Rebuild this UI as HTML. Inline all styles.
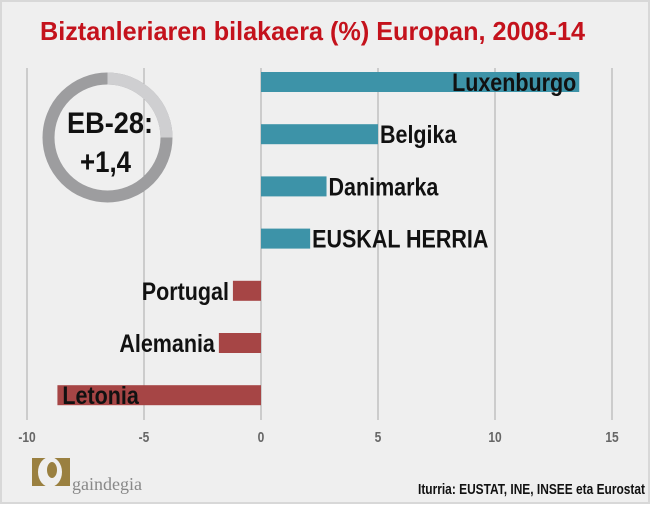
<!DOCTYPE html>
<html><head><meta charset="utf-8"><style>
body{margin:0;width:650px;height:504px;background:#fff;overflow:hidden}
svg text{font-family:"Liberation Sans Narrow","Liberation Sans",sans-serif;font-weight:bold}
</style></head><body>
<svg id="chart" width="650" height="504" xmlns="http://www.w3.org/2000/svg">
<rect x="1" y="1" width="648" height="502" fill="#efefef" stroke="#d8d8d8" stroke-width="2"/>
<text x="40" y="40" font-size="26" fill="#c4121c" textLength="545" lengthAdjust="spacingAndGlyphs">Biztanleriaren bilakaera (%) Europan, 2008-14</text>
<g id="grid"></g>
<g id="bars"></g>
<g>
<circle cx="107.5" cy="137.5" r="59" fill="none" stroke="#9d9d9f" stroke-width="12"/>
<path d="M107.5 78.5 A59 59 0 0 1 166.5 137.5" fill="none" stroke="#cfcfd1" stroke-width="12"/>
<text x="67" y="133" font-size="30" fill="#111" textLength="86" lengthAdjust="spacingAndGlyphs">EB-28:</text>
<text x="80" y="172" font-size="30" fill="#111" textLength="51" lengthAdjust="spacingAndGlyphs">+1,4</text>
</g>
<g>
<rect x="32" y="458" width="38" height="28" fill="#9a8040"/>
<ellipse cx="50" cy="472" rx="12" ry="15" fill="#efefef"/>
<ellipse cx="52" cy="470" rx="5" ry="8" fill="#9a8040"/>
<text x="72" y="490" font-size="18" fill="#888" style="font-family:'Liberation Serif',serif;font-weight:normal">gaindegia</text>
</g>
<text x="418" y="494" font-size="15" fill="#111" textLength="227" lengthAdjust="spacingAndGlyphs">Iturria: EUSTAT, INE, INSEE eta Eurostat</text>
</svg>
<script>
const countries=["Luxenburgo","Belgika","Danimarka","EUSKAL HERRIA","Portugal","Alemania","Letonia"];
const values=[13.6,5.0,2.8,2.1,-1.2,-1.8,-8.7];
const ticks=[-10,-5,0,5,10,15];
const ns="http://www.w3.org/2000/svg";
const x=v=>261+v*23.4;
const y=i=>82+i*52.2;
const grid=document.getElementById('grid'),bars=document.getElementById('bars');
function mk(tag,attrs,parent){const e=document.createElementNS(ns,tag);for(const k in attrs)e.setAttribute(k,attrs[k]);parent.appendChild(e);return e;}
ticks.forEach(t=>{
  const l=mk('line',{x1:x(t),x2:x(t),y1:68,y2:420,stroke:'#a8a8a8','stroke-width':1},grid);
  
  
  const tx=mk('text',{transform:'translate('+x(t)+',442) scale(0.8,1)','text-anchor':'middle','font-size':15,fill:'#666'},grid);
  tx.textContent=t;
  
  
});
countries.forEach((c,i)=>{
  const v=values[i];
  const r=mk('rect',{x:Math.min(x(0),x(v)),y:y(i)-10,width:Math.abs(x(v)-x(0)),height:20,fill:v>=0?'#3d93a8':'#a64545'},bars);
  
  
  let tx,anchor='start';
  if(i===0){tx=x(v)-3;anchor='end';}
  else if(v>=0){tx=x(v)+2;}
  else if(x(v)<100){tx=x(v)+5;}
  else {tx=x(v)-4;anchor='end';}
  const t=mk('text',{transform:'translate('+tx+','+(y(i)+9)+') scale(0.86,1)','text-anchor':anchor,'font-size':25,fill:'#111'},bars);
  t.textContent=c;
  
  
});
</script>
</body></html>
